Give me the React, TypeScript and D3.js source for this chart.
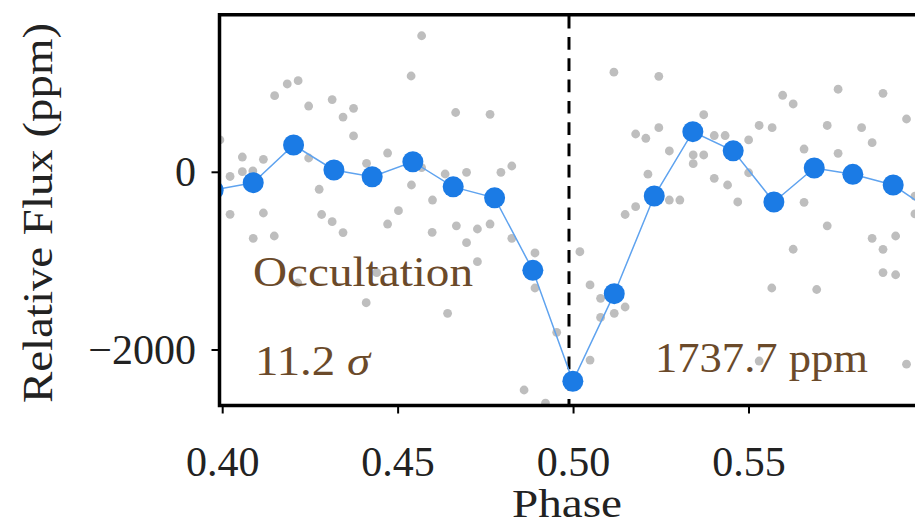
import React from "react";
import * as d3 from "d3";

// Unbinned data (grey)
const greyPhase = [
  0.3992, 0.4021, 0.4021, 0.4056, 0.4056, 0.4086, 0.4087, 0.4116, 0.4116, 0.4148,
  0.4147, 0.4184, 0.4215, 0.4214, 0.4245, 0.4245, 0.4275, 0.4282, 0.4312, 0.4312,
  0.4343, 0.4343, 0.4373, 0.4373, 0.441, 0.4409, 0.4439, 0.447, 0.447, 0.4501,
  0.4537, 0.4567, 0.4538, 0.4567, 0.4598, 0.4597, 0.4634, 0.4641, 0.4664, 0.4666,
  0.4695, 0.4695, 0.4726, 0.4726, 0.4762, 0.4762, 0.4793, 0.4824, 0.4824, 0.4859,
  0.489, 0.489, 0.492, 0.4952, 0.5018, 0.5047, 0.5047, 0.5077, 0.5077, 0.5115,
  0.5116, 0.5147, 0.5147, 0.5177, 0.5177, 0.5206, 0.5212, 0.5243, 0.5243, 0.5273,
  0.5273, 0.5303, 0.5341, 0.5341, 0.5371, 0.5371, 0.5401, 0.5401, 0.5432, 0.5439,
  0.5468, 0.5499, 0.5499, 0.5529, 0.5529, 0.5566, 0.5565, 0.5596, 0.5626, 0.5626,
  0.5657, 0.5657, 0.5693, 0.5723, 0.5723, 0.5754, 0.5754, 0.5821, 0.5851, 0.5851,
  0.5882, 0.5882, 0.5882, 0.5918, 0.5918, 0.5949, 0.5949, 0.5973, 0.5973,
];
const greyFlux = [
  364, -47, -473, 172, 7, 15, -743, 146, -458, 862,
  -717, 994, 1031, -1246, 746, 161, -191, -475, 819, -556,
  622, -678, 720, 409, 101, -1468, -1130, 217, -582, -432,
  1084, 1537, -143, 52, -312, -675, -19, -1587, 673, -602,
  0, -792, -638, -1006, 653, -582, 0, 71, -743, -2450,
  -908, -1302, -2597, -1801, -894, -1268, -2113, -1418, -1634, 1127,
  -1587, -475, -1516, 431, -387, 383, -21, 1080, 502, 240,
  -312, -312, 195, 97, 648, 195, 414, -68, 414, -143,
  -334, 364, -5, 527, -2124, 502, -1302, 867, 769, -866,
  262, -338, -1319, 527, -602, 935, 214, 502, 333, -743,
  889, -867, -1128, -717, -1153, 600, -2160, -267, -469,
];

// Binned data (blue)
const binPhase = [
  0.3973, 0.4087, 0.4202, 0.4317, 0.4426, 0.4542, 0.4657, 0.4775, 0.4884, 0.4998,
  0.5116, 0.523, 0.534, 0.5455, 0.5571, 0.5686, 0.5796, 0.5911, 0.6026,
];
const binFlux = [
  -200, -117, 307, 26, -50, 119, -164, -287, -1103, -2352,
  -1366, -267, 457, 242, -334, 48, -23, -143, -454,
];

const xTicks = [0.4, 0.45, 0.5, 0.55];
const xTickLabels = ["0.40", "0.45", "0.50", "0.55"];
const yTicks = [-2000, 0];
const yTickLabels = ["\u22122000", "0"];
const eclipsePhase = 0.4987;

const W = 915;
const H = 527;
const left = 219.5;
const right = 920.9;
const top = 14.7;
const bottom = 405.5;

const FONT = "'Liberation Serif', 'DejaVu Serif', serif";
const BROWN = "#6b4a2a";

export default function App() {
  const x = d3.scaleLinear().domain([0.39909, 0.599]).range([left, right]);
  const y = d3.scaleLinear().domain([-2624.6, 1773.8]).range([bottom, top]);
  const line = d3
    .line<number>()
    .x((_, i) => x(binPhase[i]))
    .y((d) => y(d));

  return (
    <svg
      width={W}
      height={H}
      style={{ position: "absolute", left: 0, top: 0, display: "block", background: "#fff" }}
    >
      <defs>
        <clipPath id="plotclip">
          <rect x={left} y={top} width={right - left} height={bottom - top} />
        </clipPath>
      </defs>
      <g clipPath="url(#plotclip)">
        {greyPhase.map((p, i) => (
          <circle key={i} cx={x(p)} cy={y(greyFlux[i])} r={4.4} fill="#bebebe" />
        ))}
        <line
          x1={x(eclipsePhase)}
          x2={x(eclipsePhase)}
          y1={top + 1}
          y2={bottom}
          stroke="#000"
          strokeWidth={3}
          strokeDasharray="12.7 8.6"
        />
        <path d={line(binFlux) || ""} fill="none" stroke="#5fa3ef" strokeWidth={1.5} />
        {binPhase.map((p, i) => (
          <circle key={i} cx={x(p)} cy={y(binFlux[i])} r={10.5} fill="#1b7be5" />
        ))}
      </g>

      {/* annotations */}
      <text x={253} y={286} fontFamily={FONT} fontSize={42} fill={BROWN} textLength={220} lengthAdjust="spacingAndGlyphs">
        Occultation
      </text>
      <text x={255} y={374.5} fontFamily={FONT} fontSize={42} fill={BROWN} textLength={115} lengthAdjust="spacingAndGlyphs">
        11.2 <tspan fontStyle="italic">σ</tspan>
      </text>
      <text x={655} y={372} fontFamily={FONT} fontSize={42} fill={BROWN} textLength={213} lengthAdjust="spacingAndGlyphs">
        1737.7 ppm
      </text>

      {/* frame */}
      <path
        d={`M${left},${top}H${W + 10}M${left},${bottom}H${W + 10}M${left},${top - 1.75}V${bottom + 1.75}`}
        stroke="#000"
        strokeWidth={3.5}
        fill="none"
      />

      {/* x ticks */}
      {xTicks.map((t, i) => (
        <g key={i}>
          <line x1={x(t)} x2={x(t)} y1={bottom} y2={bottom + 8} stroke="#000" strokeWidth={2} />
          <text x={x(t)} y={476} textAnchor="middle" fontFamily={FONT} fontSize={42} fill="#222">
            {xTickLabels[i]}
          </text>
        </g>
      ))}
      {/* y ticks */}
      {yTicks.map((t, i) => (
        <g key={i}>
          <line x1={left - 8} x2={left} y1={y(t)} y2={y(t)} stroke="#000" strokeWidth={2} />
          <text x={196} y={y(t) + 14} textAnchor="end" fontFamily={FONT} fontSize={42} fill="#222">
            {yTickLabels[i]}
          </text>
        </g>
      ))}

      <text x={567} y={517} textAnchor="middle" fontFamily={FONT} fontSize={40} fill="#222" textLength={110} lengthAdjust="spacingAndGlyphs">
        Phase
      </text>
      <text
        transform={`translate(52,213) rotate(-90)`}
        textAnchor="middle"
        fontFamily={FONT}
        fontSize={42}
        fill="#222"
        textLength={380}
        lengthAdjust="spacingAndGlyphs"
      >
        Relative Flux (ppm)
      </text>
    </svg>
  );
}
